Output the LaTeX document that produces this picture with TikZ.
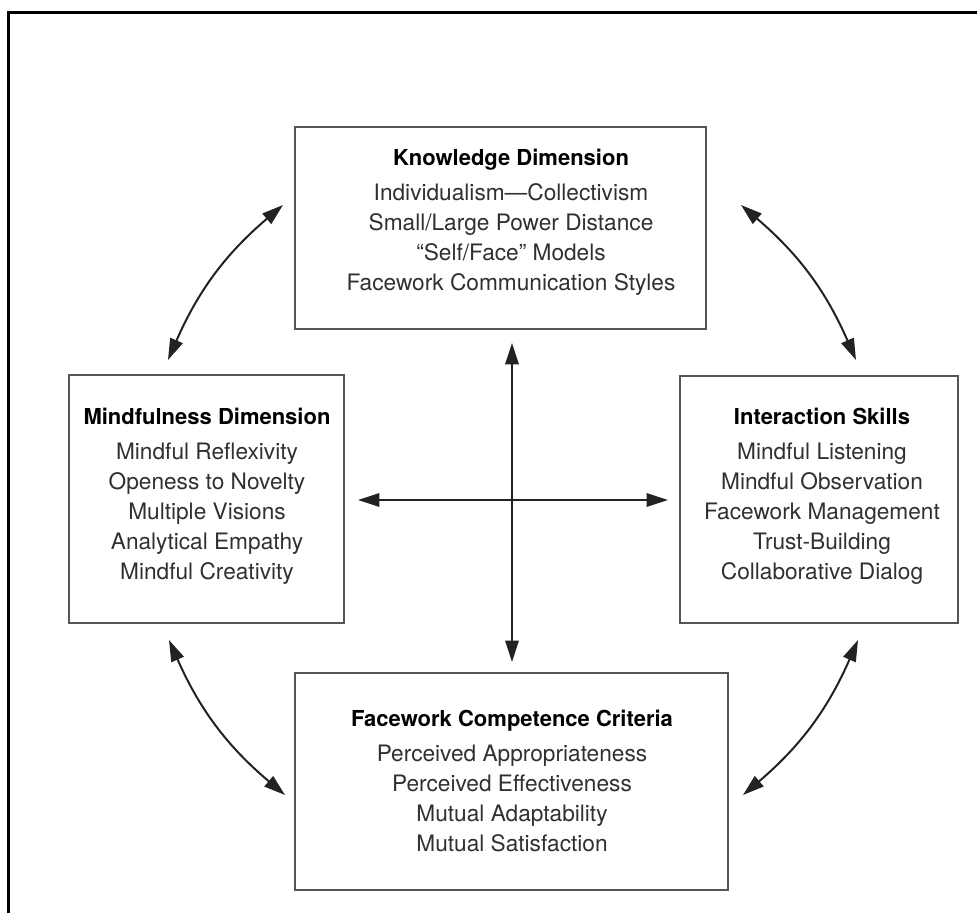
\documentclass[tikz,border=0pt]{standalone}
\usepackage{fontspec}
\setmainfont{TeX Gyre Heros}
\usetikzlibrary{arrows.meta}
\definecolor{boxgray}{HTML}{555555}
\definecolor{txtgray}{HTML}{303030}
\definecolor{arrgray}{HTML}{222222}
\tikzset{
  dimbox/.style={draw=boxgray, line width=1.5pt, rectangle, inner sep=0pt},
  dimtext/.style={align=center, text=txtgray, inner sep=0pt,
    font=\fontsize{17}{22.5}\selectfont},
  arr/.style={{Triangle[length=16pt,width=10pt]}-{Triangle[length=16pt,width=10pt]},
    line width=1.5pt, draw=arrgray},
  frameline/.style={line width=2.3pt, draw=black}
}
\newcommand{\dimtitle}[1]{{\color{black}\fontsize{16.5}{22.5}\selectfont\bfseries #1}\\[4pt]}
\begin{document}
\begin{tikzpicture}[x=0.75pt,y=-0.75pt]
\useasboundingbox (0,0) rectangle (977,913);
% outer frame (left and top edges)
\draw[frameline] (8.7,913) |- (977,12.3);

% boxes
\node[dimbox, minimum width=308.25pt, minimum height=151.5pt] (know) at (500.5,228) {};
\node[dimbox, minimum width=206.25pt, minimum height=186pt] (mind) at (206.5,499) {};
\node[dimbox, minimum width=208.5pt, minimum height=185.25pt] (inter) at (819,499.5) {};
\node[dimbox, minimum width=324.75pt, minimum height=162.75pt] (face) at (511.5,781.5) {};

% texts
\node[dimtext] (knowt) at (511,222) {\dimtitle{Knowledge Dimension}
Individualism---Collectivism\\
Small/Large Power Distance\\
``Self/Face'' Models\\
Facework Communication Styles};
\node[dimtext] (mindt) at (207,496) {\dimtitle{Mindfulness Dimension}
Mindful Reflexivity\\
Openess to Novelty\\
Multiple Visions\\
Analytical Empathy\\
Mindful Creativity};
\node[dimtext] (intert) at (822,496) {\dimtitle{Interaction Skills}
Mindful Listening\\
Mindful Observation\\
Facework Management\\
Trust-Building\\
Collaborative Dialog};
\node[dimtext] (facet) at (512,781) {\dimtitle{Facework Competence Criteria}
Perceived Appropriateness\\
Perceived Effectiveness\\
Mutual Adaptability\\
Mutual Satisfaction};

% arrow end points
\coordinate (vtop) at (512,343);
\coordinate (vbot) at (512,662);
\coordinate (hleft) at (358,500);
\coordinate (hright) at (668,500);
\coordinate (tlA) at (168,360);
\coordinate (tlB) at (283,205);
\coordinate (trA) at (741,205);
\coordinate (trB) at (856,360);
\coordinate (brA) at (858,640);
\coordinate (brB) at (743,795);
\coordinate (blA) at (285,795);
\coordinate (blB) at (169,640);

% central cross
\draw[arr] (vtop) -- (vbot);
\draw[arr] (hleft) -- (hright);

% curved arrows
\draw[arr] (tlA) to[bend left=13] (tlB);
\draw[arr] (trA) to[bend left=13] (trB);
\draw[arr] (brA) to[bend left=13] (brB);
\draw[arr] (blA) to[bend left=13] (blB);
\end{tikzpicture}
\end{document}
